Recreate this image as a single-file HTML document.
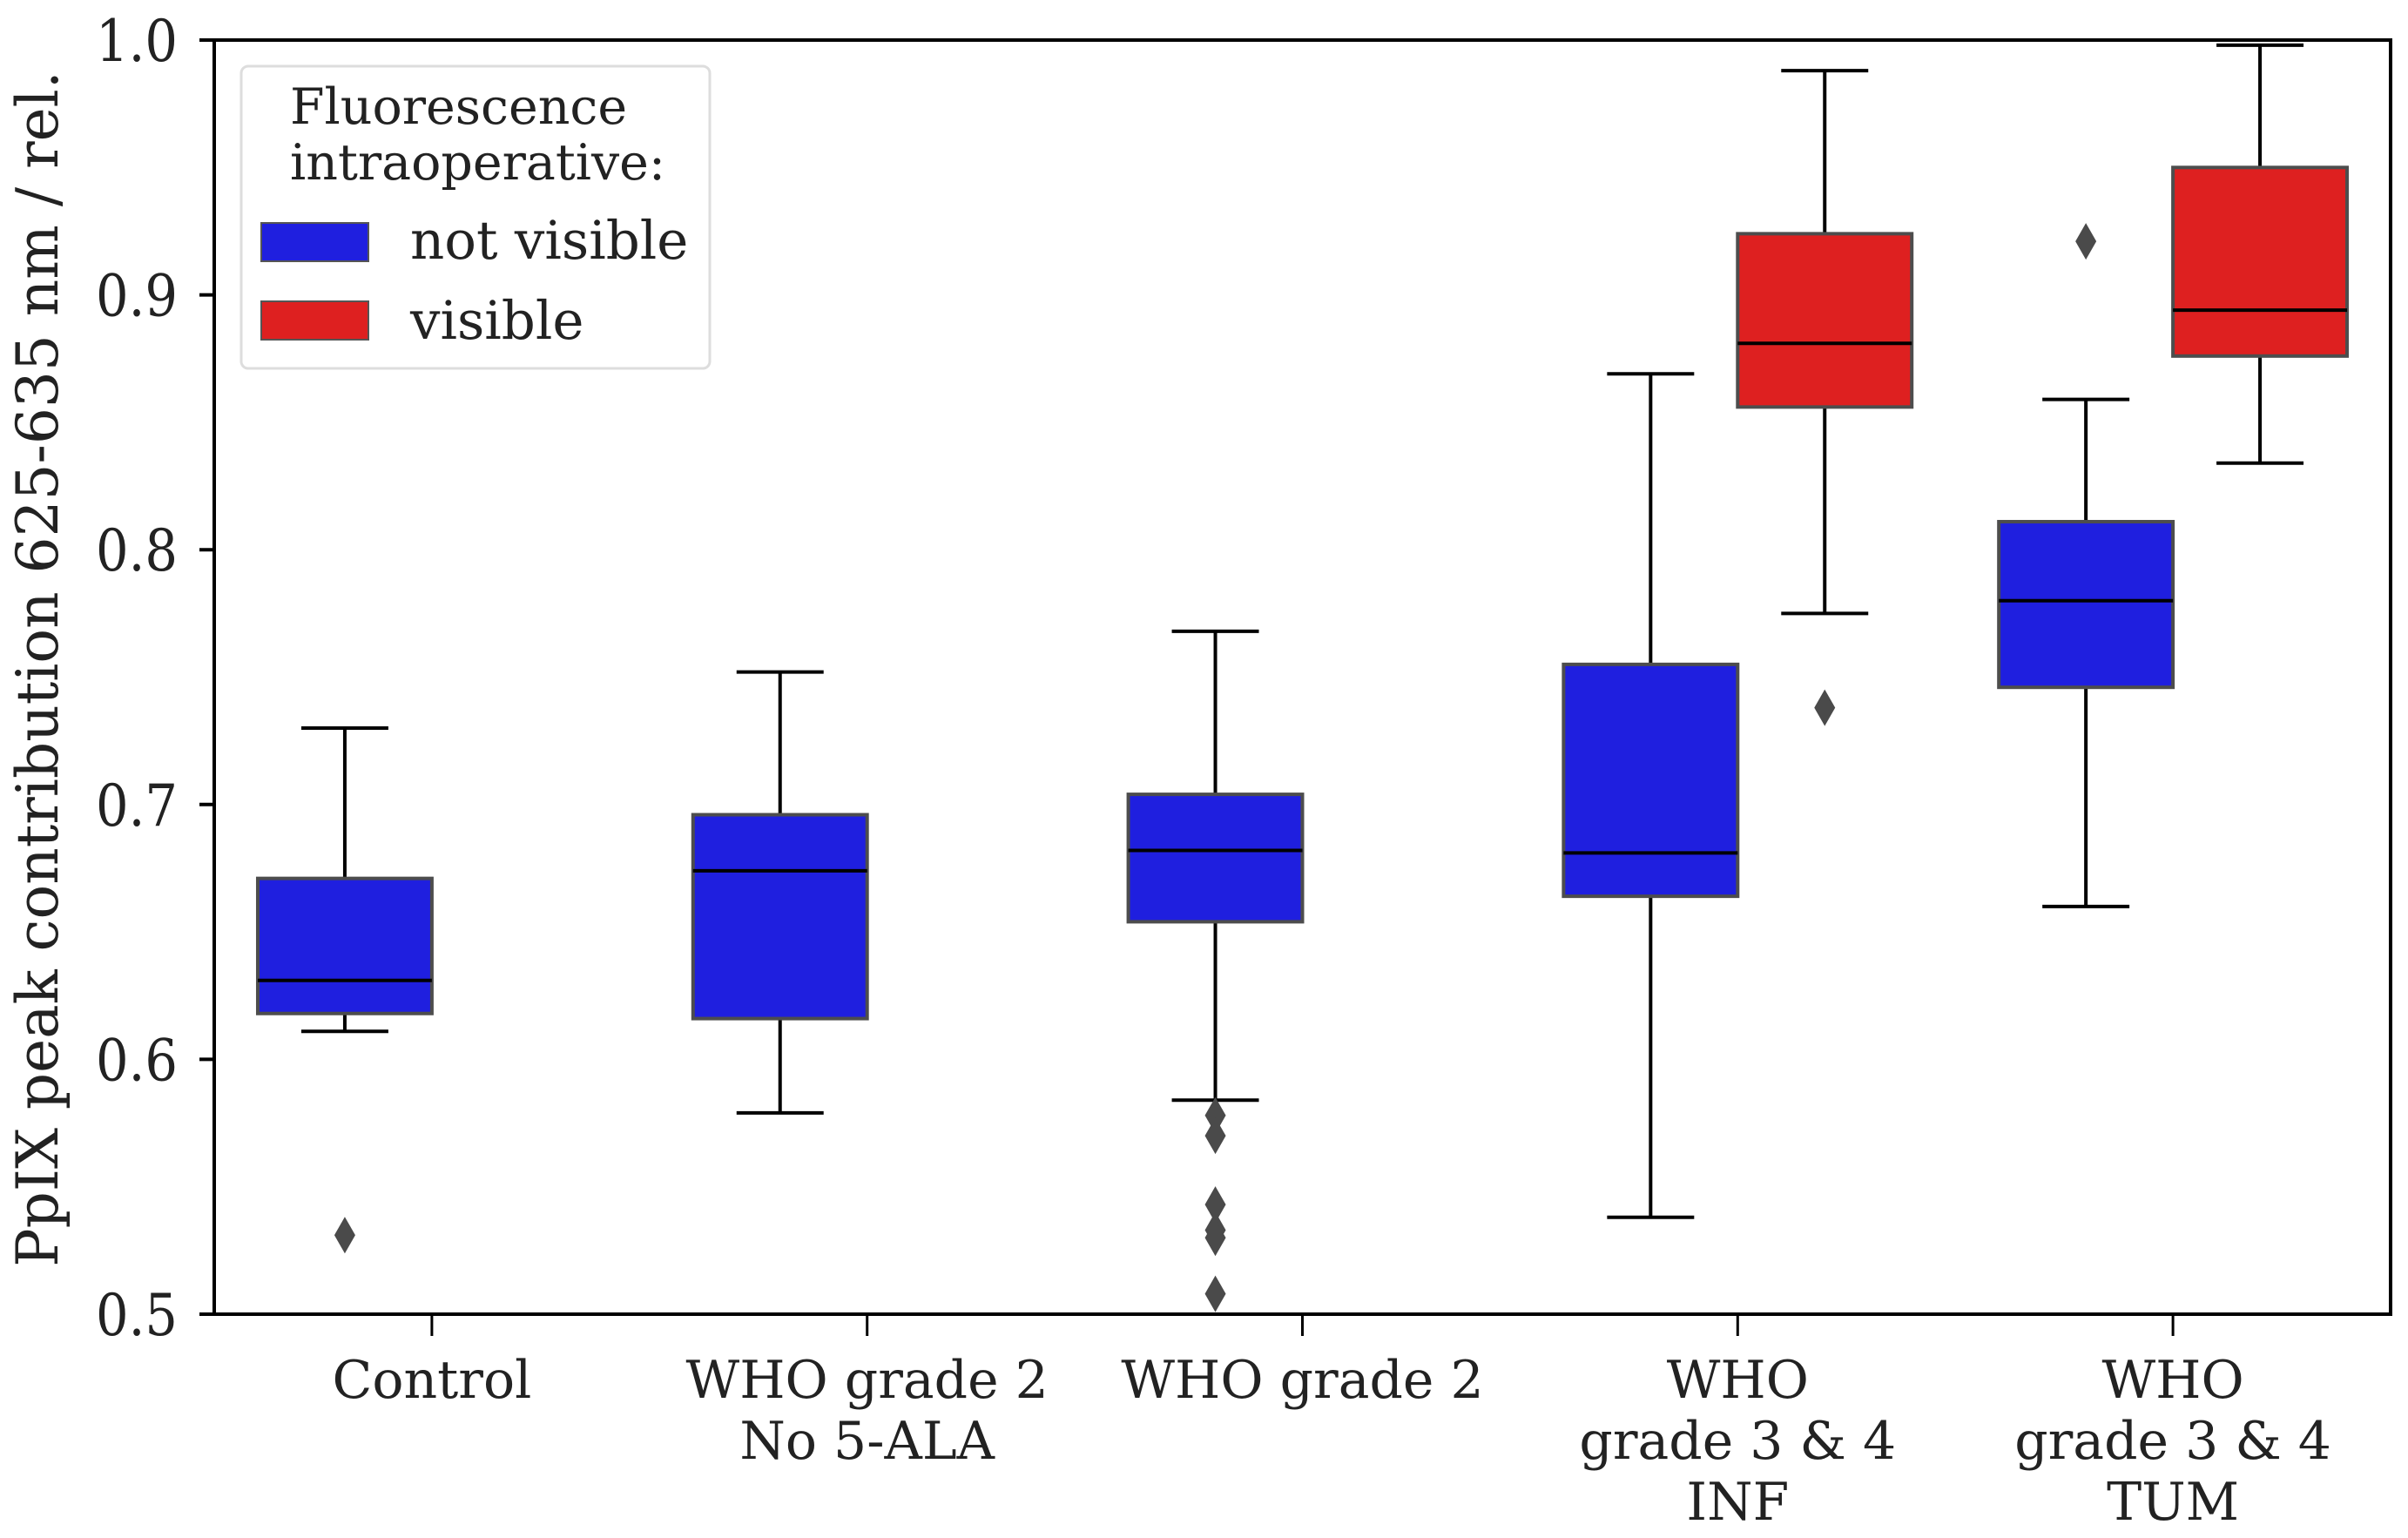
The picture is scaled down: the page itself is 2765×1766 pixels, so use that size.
<!DOCTYPE html>
<html><head><meta charset="utf-8"><style>
html,body{margin:0;padding:0;background:#fff;}
svg{display:block;font-family:"DejaVu Serif","Liberation Serif",serif;}
</style></head><body>
<svg id="chart" width="2765" height="1766" viewBox="0 0 2765 1766" xmlns="http://www.w3.org/2000/svg">
<g id="plot"></g>
<g id="axes"></g>
<g id="legend">
  <rect x="277" y="76" width="538" height="347" rx="8" fill="#fff" stroke="#ddd" stroke-width="3"/>
  <text x="333" y="142" font-size="57" fill="#222">Fluorescence</text>
  <text x="333" y="206" font-size="57" fill="#222">intraoperative:</text>
  <rect x="300" y="256" width="123" height="44" fill="#1f1fdf" stroke="#555" stroke-width="2"/>
  <text x="471" y="297" font-size="61" fill="#222">not visible</text>
  <rect x="300" y="346" width="123" height="44" fill="#de2020" stroke="#555" stroke-width="2"/>
  <text x="471" y="389" font-size="61" fill="#222">visible</text>
</g>
</svg>
<script>
const categories = [["Control"],["WHO grade 2","No 5-ALA"],["WHO grade 2"],["WHO","grade 3 & 4","INF"],["WHO","grade 3 & 4","TUM"]];
const yTicks = [0.5,0.6,0.7,0.8,0.9,1.0];
const yTickLabels = ["0.5","0.6","0.7","0.8","0.9","1.0"];
// [category index, hue (0 = not visible, 1 = visible), whislo, q1, median, q3, whishi]
const boxStats = [
  [0,0,0.611,0.618,0.631,0.671,0.730],
  [1,0,0.579,0.616,0.674,0.696,0.752],
  [2,0,0.584,0.654,0.682,0.704,0.768],
  [3,0,0.538,0.664,0.681,0.755,0.869],
  [3,1,0.775,0.856,0.881,0.924,0.988],
  [4,0,0.660,0.746,0.780,0.811,0.859],
  [4,1,0.834,0.876,0.894,0.950,0.998]
];
const outlierCats = [0,2,2,2,2,2,2,3,4];
const outlierHues = [0,0,0,0,0,0,0,1,0];
const outlierVals = [0.531,0.578,0.570,0.543,0.533,0.530,0.508,0.738,0.921];
const hueColors = ["#1f1fdf","#de2020"];

const NS="http://www.w3.org/2000/svg";
const L=246,R=2745,T=46,B=1509,yMin=0.5,yMax=1.0;
const y=v=>B-(v-yMin)/(yMax-yMin)*(B-T);
const step=(R-L)/categories.length;
const xc=i=>L+step*(i+0.5);
const xh=(i,h)=>xc(i)+(h===0?-0.2:0.2)*step;
const bw=0.4*step;
function mk(tag,attrs,parent){const e=document.createElementNS(NS,tag);for(const k in attrs)e.setAttribute(k,attrs[k]);parent.appendChild(e);return e;}
const plot=document.getElementById('plot'), axes=document.getElementById('axes');

boxStats.forEach(s=>{
  const [c,h,lo,q1,md,q3,hi]=s; const cx=xh(c,h);
  const g=mk('g',{},plot);
  
  
  const ln={stroke:'#000','stroke-width':4};
  mk('line',Object.assign({x1:cx,x2:cx,y1:y(hi),y2:y(q3)},ln),g);
  mk('line',Object.assign({x1:cx,x2:cx,y1:y(q1),y2:y(lo)},ln),g);
  mk('line',Object.assign({x1:cx-bw/4,x2:cx+bw/4,y1:y(hi),y2:y(hi)},ln),g);
  mk('line',Object.assign({x1:cx-bw/4,x2:cx+bw/4,y1:y(lo),y2:y(lo)},ln),g);
  mk('rect',{x:cx-bw/2,y:y(q3),width:bw,height:y(q1)-y(q3),fill:hueColors[h],stroke:'#4d4d4d','stroke-width':4},g);
  mk('line',Object.assign({x1:cx-bw/2,x2:cx+bw/2,y1:y(md),y2:y(md)},ln),g);
});
outlierVals.forEach((v,i)=>{
  const cx=xh(outlierCats[i],outlierHues[i]), cy=y(v);
  const p=mk('polygon',{points:`${cx},${cy-21} ${cx+12},${cy} ${cx},${cy+21} ${cx-12},${cy}`,fill:'#4a4a4a'},plot);
  
  
});
const fr=mk('rect',{x:L,y:T,width:R-L,height:B-T,fill:'none',stroke:'#000','stroke-width':4},axes);


yTicks.forEach((v,i)=>{
  mk('line',{x1:L-17,x2:L,y1:y(v),y2:y(v),stroke:'#000','stroke-width':4},axes);
  const t=mk('text',{x:L-42,y:y(v)+24,'text-anchor':'end','font-size':66,fill:'#222',textLength:94,lengthAdjust:'spacingAndGlyphs'},axes);
  t.textContent=yTickLabels[i];
  
  
});
categories.forEach((lines,i)=>{
  mk('line',{x1:xc(i),x2:xc(i),y1:B,y2:B+25,stroke:'#000','stroke-width':3},axes);
  lines.forEach((s,j)=>{
    const t=mk('text',{x:xc(i),y:1605+j*70,'text-anchor':'middle','font-size':60,fill:'#222'},axes);
    t.textContent=s;
    
    
  });
});
const yl=mk('text',{x:0,y:0,transform:'translate(66,768) rotate(-90)','text-anchor':'middle','font-size':66,fill:'#222'},axes);
yl.textContent='PpIX peak contribution 625-635 nm / rel.';


</script>
</body></html>
